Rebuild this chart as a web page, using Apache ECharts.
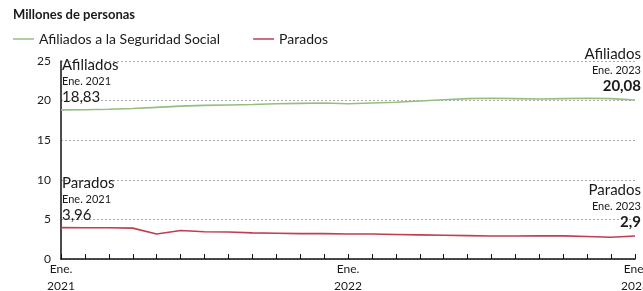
<!DOCTYPE html>
<html>
<head>
<meta charset="utf-8">
<script src="https://cdn.jsdelivr.net/npm/echarts@6/dist/echarts.min.js"></script>
<style>
  html, body { margin: 0; padding: 0; background: #fff; }
  #chart { width: 643px; height: 291px; }
</style>
</head>
<body>
<div id="chart"></div>
<script>
const FONT = 'Lato, "Open Sans", sans-serif';

const months = [
  'Ene.\n2021', 'Feb', 'Mar', 'Abr', 'May', 'Jun', 'Jul', 'Ago', 'Sep', 'Oct', 'Nov', 'Dic',
  'Ene.\n2022', 'Feb', 'Mar', 'Abr', 'May', 'Jun', 'Jul', 'Ago', 'Sep', 'Oct', 'Nov', 'Dic',
  'Ene.\n2023'
];
const afiliados = [
  18.83, 18.85, 18.9, 19.0, 19.15, 19.3, 19.4, 19.45, 19.5, 19.6, 19.65, 19.7,
  19.6, 19.7, 19.8, 19.95, 20.1, 20.25, 20.3, 20.25, 20.2, 20.25, 20.3, 20.25,
  20.08
];
const parados = [
  3.96, 3.95, 3.94, 3.9, 3.15, 3.6, 3.45, 3.4, 3.3, 3.25, 3.2, 3.2,
  3.15, 3.15, 3.1, 3.05, 3.0, 2.95, 2.9, 2.9, 2.92, 2.92, 2.85, 2.75,
  2.9
];
const yTicks = [0, 5, 10, 15, 20, 25];

const GREEN = '#93bf7f';
const RED = '#c03e50';
const last = months.length - 1;

const rich = {
  n: { fontFamily: FONT, fontSize: 15, color: '#1a1a1a', lineHeight: 17 },
  d: { fontFamily: FONT, fontSize: 11, color: '#1a1a1a', lineHeight: 15 },
  v: { fontFamily: FONT, fontSize: 15, color: '#1a1a1a', lineHeight: 17 },
  vb: { fontFamily: FONT, fontSize: 15, color: '#1a1a1a', lineHeight: 17, fontWeight: 'bold' }
};

function tag(name, year, val, i, y, right) {
  return {
    coord: [i, y],
    symbol: 'circle',
    symbolSize: 0,
    label: {
      show: true,
      position: 'inside',
      align: right ? 'right' : 'left',
      verticalAlign: 'bottom',
      offset: right ? [6, -5] : [1, -4],
      lineHeight: 16,
      formatter: '{n|' + name + '}\n{d|Ene. ' + year + '}\n{' + (right ? 'vb' : 'v') + '|' + val + '}',
      rich: rich
    }
  };
}

const chart = echarts.init(document.getElementById('chart'));
chart.setOption({
  animation: false,
  backgroundColor: '#fff',
  textStyle: { fontFamily: FONT },
  title: {
    text: 'Millones de personas',
    left: 8, top: 3,
    textStyle: { fontFamily: FONT, fontSize: 13, fontWeight: 'bold', color: '#1a1a1a' }
  },
  legend: {
    left: 8, top: 27,
    icon: 'rect',
    itemWidth: 21, itemHeight: 1.5,
    itemGap: 33,
    textStyle: { fontFamily: FONT, fontSize: 14, color: '#1a1a1a' },
    data: ['Afiliados a la Seguridad Social', 'Parados']
  },
  grid: { left: 61, right: 8, top: 61, bottom: 32, outerBoundsMode: 'none' },
  xAxis: {
    type: 'category',
    data: months,
    boundaryGap: false,
    axisLine: { lineStyle: { color: '#111', width: 1.5 } },
    axisTick: { inside: true, length: 5, lineStyle: { color: '#111', width: 1 } },
    axisLabel: {
      interval: 0,
      margin: 2,
      fontFamily: FONT, fontSize: 12, color: '#1a1a1a', lineHeight: 17,
      formatter: v => v.indexOf('\n') >= 0 ? v : ''
    },
    splitLine: { show: false }
  },
  yAxis: {
    type: 'value',
    min: yTicks[0], max: yTicks[yTicks.length - 1], interval: 5,
    axisLine: { show: true, lineStyle: { color: '#111', width: 1.5 } },
    axisTick: { show: false },
    axisLabel: { margin: 10, fontFamily: FONT, fontSize: 12, color: '#1a1a1a' },
    splitLine: { lineStyle: { color: '#aaa', type: [2, 2], width: 1 } }
  },
  series: [
    {
      name: 'Afiliados a la Seguridad Social',
      type: 'line',
      data: afiliados,
      symbol: 'none',
      color: GREEN,
      lineStyle: { width: 1.6 },
      markPoint: {
        data: [
          tag('Afiliados', 2021, '18,83', 0, afiliados[0], false),
          tag('Afiliados', 2023, '20,08', last, afiliados[last], true)
        ]
      }
    },
    {
      name: 'Parados',
      type: 'line',
      data: parados,
      symbol: 'none',
      color: RED,
      lineStyle: { width: 1.6 },
      markPoint: {
        data: [
          tag('Parados', 2021, '3,96', 0, parados[0], false),
          tag('Parados', 2023, '2,9', last, parados[last], true)
        ]
      }
    }
  ]
});
</script>
</body>
</html>
